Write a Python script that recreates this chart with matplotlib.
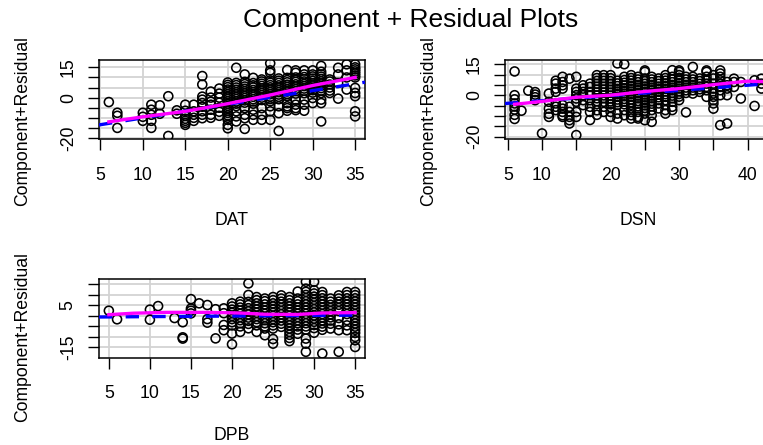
import numpy as np
import matplotlib
matplotlib.use("Agg")
import matplotlib.pyplot as plt

plt.rcParams['font.family'] = ['Liberation Sans', 'DejaVu Sans']

# DAT panel: x levels and the component+residual values at each level
dat_cols = [6, 7, 10, 11, 12, 13, 14, 15, 16, 17, 18, 19, 20, 21, 22, 23, 24, 25,
            26, 27, 28, 29, 30, 31, 32, 33, 34, 35]
dat_res = [
    [-2.2],
    [-7.5, -9, -15],
    [-7.5, -9.5, -11.5],
    [-3.5, -6, -8.5, -11.5, -15],
    [-3.8, -8],
    [0.7, -19],
    [-6.3, -8],
    [-3.5, -6.5, -9, -10.5, -11.5, -12.5, -13.5],
    [-3.5, -6.8, -8.5, -10, -11.5],
    [10.7, 6.5, 0.5, -1, -2.7, -4.5, -6.8, -8.5, -10.2],
    [3, 0, -2, -3.5, -6, -8.5, -10],
    [4.5, 2, 0, -2.5, -5, -7, -9],
    [7.5, 6.3, 5.2, 4, 2.8, 1.7, 0.5, -0.6, -1.8, -3, -4.1, -5.3, -6.5, -7.6, -8.8, -10, -11, -13.5, -15.2],
    [14.8, 7.3, 6.2, 5, 3.9, 2.7, 1.6, 0.4, -0.7, -1.9, -3, -4.2, -6.8, -9.3, -11.8],
    [11.5, 7.8, 6.7, 5.5, 4.4, 3.2, 2.1, 0.9, -0.2, -1.4, -2.5, -5.2, -8.5, -10.2, -15.5],
    [9.8, 7.2, 6.1, 5, 3.8, 2.7, 1.5, 0.4, -0.8, -1.9, -3, -6, -8.5, -11],
    [9, 8, 6.9, 5.8, 4.6, 3.5, 2.3, 1.2, 0, -1.2, -5.2, -8.5, -11],
    [17, 13.5, 12.3, 8.5, 7.4, 6.2, 5.1, 4, 2.8, 1.7, 0.5, -0.7, -1.8, -4.3, -6.8, -11],
    [9.5, 8.4, 7.3, 6.1, 5, 3.8, 2.7, 1.5, 0.4, -0.8, -4.3, -7.7, -16.5],
    [13.7, 9.8, 8.7, 7.6, 6.4, 5.3, 4.1, 3, 1.8, 0.7, -2.7, -4.3, -5.2, -6.5],
    [13.5, 12.3, 10, 8.9, 7.8, 6.6, 5.5, 4.3, 3.2, 2, -1, -3.5, -5.2, -6.2],
    [13.5, 11.5, 10.2, 9.1, 8, 6.8, 5.7, 4.5, 3.4, 2.2, -1, -3.5, -6.5],
    [13.5, 11.5, 10.5, 9.4, 8.3, 7.1, 6, 4.8, 3.7, 2.5, -0.2, -2.7],
    [15.7, 12.8, 11.5, 10.4, 9.3, 8.1, 7, 5.8, 4.7, 3.5, 2.3, -1, -2.7, -11.8],
    [9, 8, 6.5, 5, 3.5, 2.3],
    [14.8, 11.5, 7.3, -0.5],
    [16.5, 13.5, 10, 4],
    [16.5, 15, 14, 13, 12, 11, 10, 4.8, 2.3, 0.7, -6.8, -9.3],
]
dat_fit = (0.676, -16.8)  # slope, intercept
dat_smooth_x = [6, 10, 15, 20, 25, 30, 35]
dat_smooth_y = [-12, -9.5, -6.8, -3, 1.3, 6, 10]

# DSN panel
dsn_cols = [6, 7, 8, 9, 10, 11, 12, 13, 14, 15, 16, 17, 18, 19, 20, 21, 22, 23, 24,
            25, 26, 27, 28, 29, 30, 31, 32, 33, 34, 35, 36, 37, 38, 39, 41, 42]
dsn_res = [
    [11.5, 0, -2, -4, -5.5, -7, -9.5, -11.5],
    [-7.5],
    [2.2],
    [1.5, 0.3, -1, -2.4],
    [-18.5],
    [0.8, -3.2, -6.5, -9, -10.5],
    [7, 5.6, 3.2, 1.6, -4, -5.6, -7.2],
    [8.9, 6.4, 4.8, 3.2, -4.8, -6.5, -8.1, -9.7, -10.5],
    [8, -5.6, -8.1, -10.5, -12.1, -13.7],
    [8.9, 3.2, 1.6, 0, -1.6, -3.2, -8.1, -10.5, -19.3],
    [4.8, 3.2, 1.6, 0, -2.4, -4.8],
    [5.6, 4, 1.6, 0, -2.4, -5.6, -8.1, -12],
    [9.7, 8.3, 6.9, 5.5, 4.1, 2.7, 1.3, -0.1, -1.5, -2.9, -4.3, -7.3, -9.5],
    [9.7, 8.3, 6.9, 5.5, 4.1, 2.7, 1.3, -0.1, -1.5, -3.2, -5.6, -8.1],
    [9.7, 8.2, 6.8, 5.4, 4, 2.6, 1.2, -0.2, -1.6, -3, -4.4, -5.8, -8.1, -10.5],
    [15.4, 7, 5.7, 4.4, 3.1, 1.8, 0.5, -0.8, -2.1, -3.4, -4.7, -8.9, -11.3],
    [15, 8.9, 7.3, 6, 4.7, 3.4, 2.1, 0.8, -0.5, -1.8, -3.1, -4.4, -7.2, -9.7],
    [9.7, 8.3, 7, 5.7, 4.4, 3.1, 1.8, 0.5, -0.8, -2.1, -3.4, -4.7, -6.4, -8.1, -9.7, -11.3],
    [8.9, 7.6, 6.3, 5, 3.7, 2.4, 1.1, -0.2, -1.5, -2.8, -4.1, -5.4, -8.1, -10.5, -11.3],
    [12, 11.3, 8.1, 6.8, 5.5, 4.2, 2.9, 1.6, 0.3, -1, -2.3, -3.6, -4.9, -6.2, -7.5, -8.9, -12.1],
    [8.9, 7.6, 6.3, 5, 3.7, 2.4, 1.1, -0.2, -1.5, -2.8, -4.1, -5.4, -7.2, -9.7, -12.9],
    [8.1, 6.8, 5.5, 4.2, 2.9, 1.6, 0.3, -1, -2.3, -4, -6.4],
    [9.7, 8.3, 7, 5.7, 4.4, 3.1, 1.8, 0.5, -0.8, -2.4, -4.8, -7.2, -8.9],
    [12.1, 8.9, 7.6, 6.3, 5, 3.7, 2.4, 1.1, -0.2, -1.5, -3.2, -5.6, -7.2],
    [12, 11.3, 9.7, 8.4, 7.1, 5.8, 4.5, 3.2, 1.9, 0.6, -0.7, -2.4],
    [8.9, 7.6, 6.3, 5, 3.7, 2.4, 1.1, -8.3],
    [13.7, 8.9, 7.6, 6.3, 5, 3.7, 2.4, 0.8],
    [8.1, 6.8, 5.5, 4.2, 2.9, 1.6],
    [12, 11.3, 8.9, 7.2, 5.6, 4, 2.4, -0.8],
    [9.7, 8.1, 5.6, 3.2, 0.8, -0.8, -2.4, -4, -6.5],
    [12, 10.5, 8.9, 7.2, 5.6, 4, 2.4, 0, -14.5],
    [6.4, 4.8, 3.2, 0, -13.7],
    [8, 6.4, 4],
    [6.4, -1.6],
    [7.2, -5.2],
    [8, 5.6, 3.2],
]
dsn_fit = (0.25, -5.17)
dsn_smooth_x = [6, 10, 15, 20, 25, 30, 35, 40, 42]
dsn_smooth_y = [-4.4, -3, -1, 0, 1.8, 3.2, 5.1, 6.8, 6.6]

# DPB panel
dpb_cols = [5, 6, 10, 11, 13, 14, 15, 16, 17, 18, 19, 20, 21, 22, 23, 24, 25, 26,
            27, 28, 29, 30, 31, 32, 33, 34, 35]
dpb_res = [
    [2.5],
    [-1.6],
    [3, -1.8],
    [4.7],
    [-1],
    [-3, -10.2, -10.8],
    [8, 3.5, 2.5, 1.2],
    [6],
    [5.2, -1.5, -3.2],
    [3.2, -10.7],
    [3.6, 1.3, -4.3, -6.8],
    [6, 4.5, 3, 1.5, 0, -1.5, -3, -4.5, -8.4, -13.5],
    [6.8, 5.5, 4, 2.5, 1, -0.5, -2, -3.5, -5, -7.6],
    [15.5, 10, 6.7, 5.2, 3.7, 2.2, 0.7, -0.8, -2.3, -3.8, -5.9],
    [9, 7.5, 6, 4.5, 3, 1.5, 0, -1.5, -3, -4.5, -7.6],
    [8.3, 7, 5.5, 4, 2.5, 1, -0.5, -2, -3.5, -5, -6, -9.2],
    [9, 7.5, 6, 4.5, 3, 1.5, 0, -1.5, -3, -4.5, -6, -11, -13.2],
    [9.8, 8.3, 6.8, 5.3, 3.8, 2.3, 0.8, -0.7, -2.2, -3.7, -5.2],
    [9, 7.5, 6, 4.5, 3, 1.5, 0, -1.5, -3, -4.5, -6, -7.6, -9, -10.5, -12],
    [11.6, 8.3, 7, 5.5, 4, 2.5, 1, -0.5, -2, -3.5, -5, -6.5, -8.5],
    [16.3, 13, 11.5, 10, 8.5, 7, 5.5, 4, 2.5, 1, -0.5, -2, -3.5, -5, -6.5, -10.8, -13.2, -17.1],
    [16.3, 12.2, 10.7, 9.2, 7.7, 6.2, 4.7, 3.2, 1.7, 0.2, -1.3, -2.8, -4.3, -5.8, -8],
    [11.4, 9.9, 8.4, 6.9, 5.4, 3.9, 2.4, 0.9, -0.6, -2.1, -3.6, -5.1, -6.6, -17.9],
    [8.3, 6.8, 5.3, 3.8, 2.3, 0.8, -0.7, -2.2, -3.7, -6],
    [9.8, 8.3, 6.8, 5.3, 3.8, 2.3, -1, -4, -6.8, -17.1],
    [11.4, 9.9, 8.4, 6.9, 5.4, 3.9, 2.4, 0.9, -2, -4.5, -6.8],
    [11.4, 9.9, 8.4, 6.9, 5.4, 3.9, 2.4, 0.9, -0.6, -2.1, -3.6, -5.1, -6.6, -8.1, -10, -11.6, -14.8],
]
dpb_fit = (0.028, -0.61)
dpb_smooth_x = [5, 8, 12, 17, 21, 24, 28, 31, 35]
dpb_smooth_y = [0.6, 1.3, 1.7, 1.7, 1.4, 0.8, 0.7, 1.4, 1.6]

ticks_a = [5, 10, 15, 20, 25, 30, 35]
ticks_b = [5, 10, 15, 20, 25, 30, 35, 40]
labels_b = ['5', '10', '', '20', '', '30', '', '40']
yt_a = [-20, -15, -10, -5, 0, 5, 10, 15]
yl_a = ['-20', '', '', '', '0', '', '', '15']
yt_c = [-15, -10, -5, 0, 5, 10, 15]
yl_c = ['-15', '', '', '', '5', '', '']

FS = 12.7


def panel(ax, cols, res, fit, sx, sy, xlim, ylim, xt, xl, yt, yl, name, ylab_y, xlab_y):
    x = np.repeat(cols, [len(r) for r in res])
    y = np.concatenate([np.asarray(r, float) for r in res])
    ax.set_xlim(xlim)
    ax.set_ylim(ylim)
    ax.grid(True, color='#d3d3d3', lw=1.3)
    ax.set_axisbelow(True)
    ax.scatter(x, y, s=42, facecolors='none', edgecolors='black', linewidths=1.15, zorder=3)
    ax.axline((0, fit[1]), slope=fit[0], color='blue', lw=2.4, linestyle=(0, (4, 4)), zorder=4)
    ax.plot(sx, sy, color='magenta', lw=2.4, zorder=5)
    ax.set_xticks(xt, xl)
    ax.set_yticks(yt, yl)
    for t in ax.get_yticklabels():
        t.set_rotation(90)
        t.set_va('center')
    ax.tick_params(axis='x', length=8, width=1, pad=12, labelsize=FS)
    ax.tick_params(axis='y', length=8, width=1, pad=8, labelsize=FS)
    for s in ax.spines.values():
        s.set_linewidth(1.1)
    ax.set_xlabel(name, fontsize=FS)
    ax.set_ylabel('Component+Residual', fontsize=FS)
    ax.xaxis.set_label_coords(0.5, xlab_y)
    ax.yaxis.set_label_coords(-0.2556, ylab_y)


fig = plt.figure(figsize=(7.63, 4.45), dpi=100)
ax1 = fig.add_axes([0.12975, 0.6881, 0.34862, 0.17596])
ax2 = fig.add_axes([0.66186, 0.6881, 0.34862, 0.17596])
ax3 = fig.add_axes([0.12975, 0.19618, 0.34862, 0.17685])

panel(ax1, dat_cols, dat_res, dat_fit, dat_smooth_x, dat_smooth_y, (4.84, 36.16), (-20.4, 18.4),
      ticks_a, [str(t) for t in ticks_a], yt_a, yl_a, 'DAT', 0.221, -0.935)
panel(ax2, dsn_cols, dsn_res, dsn_fit, dsn_smooth_x, dsn_smooth_y, (4.6, 43.4), (-21.1, 16.8),
      ticks_b, labels_b, yt_a, yl_a, 'DSN', 0.221, -0.935)
panel(ax3, dpb_cols, dpb_res, dpb_fit, dpb_smooth_x, dpb_smooth_y, (3.8, 36.2), (-19.9, 17.6),
      ticks_a, [str(t) for t in ticks_a], yt_c, yl_c, 'DPB', 0.257, -0.88)

fig.text(411 / 763, 1 - 20 / 445, 'Component + Residual Plots', ha='center', va='center', fontsize=19)

fig.savefig('out.png', dpi=100)
